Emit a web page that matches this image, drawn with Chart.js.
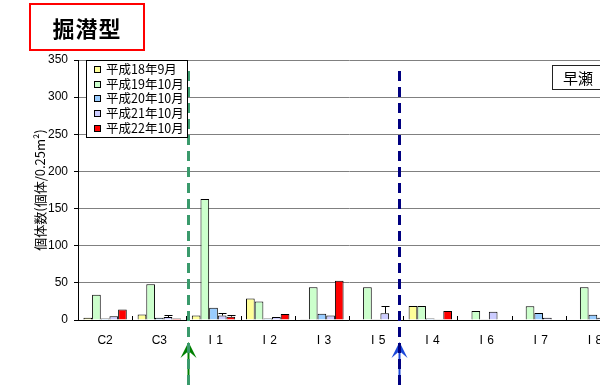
<!DOCTYPE html>
<html lang="ja">
<head>
<meta charset="utf-8">
<title>掘潜型</title>
<script src="https://cdn.jsdelivr.net/npm/chart.js@4/dist/chart.umd.min.js"></script>
<style>
  html, body { margin: 0; padding: 0; background: #fff; overflow: hidden; width: 600px; height: 386px; }
  #wrap { position: absolute; left: 0; top: 0; width: 640px; height: 386px; }
  #title {
    position: absolute; left: 29px; top: 3px; width: 112px; height: 44px;
    border: 2px solid #ff0000; box-sizing: content-box;
    font-family: "Noto Sans CJK JP", sans-serif; font-weight: bold; font-size: 22px;
    line-height: 44px; text-align: center; color: #000; letter-spacing: 1px;
  }
  #legend {
    position: absolute; left: 86px; top: 60px; width: 100px; height: 76px;
    border: 1px solid #000; background: #fff; box-sizing: content-box;
    font-family: "Noto Sans CJK JP", sans-serif; font-size: 12.5px; color: #000;
  }
  #legend .row { position: absolute; left: 7px; height: 14px; line-height: 14px; white-space: nowrap; }
  #legend .sw { display: inline-block; width: 5px; height: 5px; border: 1px solid #000; margin-right: 5px; vertical-align: 1px; }
  #site {
    position: absolute; left: 552px; top: 65px; width: 70px; height: 23px;
    border: 1px solid #222; box-sizing: content-box;
    font-family: "Noto Sans CJK JP", sans-serif; font-size: 15px; line-height: 23px;
    padding-left: 10px; color: #000;
  }
</style>
</head>
<body>
<div id="wrap">
  <canvas id="chart" width="640" height="386"></canvas>
  <div id="title">掘潜型</div>
  <div id="legend"></div>
  <div id="site">早瀬</div>
</div>
<script>
// Survey stations along the x axis
const categories = ['C2', 'C3', 'Ⅰ1', 'Ⅰ2', 'Ⅰ3', 'Ⅰ5', 'Ⅰ4', 'Ⅰ6', 'Ⅰ7', 'Ⅰ8'];
// Survey dates (legend labels)
const seriesNames = ['平成18年9月', '平成19年10月', '平成20年10月', '平成21年10月', '平成22年10月'];
// Individuals per 0.25 m², one array per survey
const h18_09 = [3, 7.5, 6, 29, 1, 0, 19, 0, 0, 0];
const h19_10 = [34, 48, 163, 25, 44, 44, 19, 12, 18.5, 44];
const h20_10 = [2, 3, 16.5, 2, 8.5, 1, 2, 1, 9.5, 7];
const h21_10 = [5, 4, 6, 4, 6, 9, 1, 11, 3, 3];
const h22_10 = [14, 2, 4.5, 8, 53, 0, 12, 0, 0, 0];
// Upper error bar lengths
const h21_10_err = [0, 3, 3, 0, 0, 10, 0, 0, 0, 0];
const h22_10_err = [0, 0, 2.5, 0, 0, 0, 0, 0, 0, 12.5];
// Y axis ticks
const yTicks = [0, 50, 100, 150, 200, 250, 300, 350];

const seriesValues = [h18_09, h19_10, h20_10, h21_10, h22_10];
const seriesErrors = [null, null, null, h21_10_err, h22_10_err];
const fillColors = ['#ffff99', '#ccffcc', '#99ccff', '#ccccff', '#ff0000'];

const datasets = seriesNames.map((name, i) => ({
  label: name,
  data: seriesValues[i],
  errors: seriesErrors[i],
  backgroundColor: fillColors[i],
  borderColor: '#000',
  borderWidth: 1,
  borderSkipped: 'bottom',
  categoryPercentage: 0.8,
  barPercentage: 1.0
}));

// HTML legend built from the datasets
const legendEl = document.getElementById('legend');
datasets.forEach((ds, i) => {
  const row = document.createElement('div');
  row.className = 'row';
  row.style.top = (1 + i * 14.7) + 'px';
  const sw = document.createElement('span');
  sw.className = 'sw';
  sw.style.background = ds.backgroundColor;
  row.appendChild(sw);
  row.appendChild(document.createTextNode(ds.label));
  legendEl.appendChild(row);
});

// Upward error bars with a small cap
const errorBars = {
  id: 'errorBars',
  afterDatasetsDraw(chart) {
    const ctx = chart.ctx;
    const y = chart.scales.y;
    ctx.save();
    ctx.strokeStyle = '#000';
    ctx.lineWidth = 1;
    chart.data.datasets.forEach((ds, di) => {
      if (!ds.errors) return;
      const meta = chart.getDatasetMeta(di);
      ds.errors.forEach((e, j) => {
        if (!e) return;
        const bar = meta.data[j];
        const x = Math.round(bar.x) + 0.5;
        const yTop = Math.round(y.getPixelForValue(ds.data[j] + e)) + 0.5;
        const yBar = y.getPixelForValue(ds.data[j]);
        ctx.beginPath();
        ctx.moveTo(x, yBar);
        ctx.lineTo(x, yTop);
        ctx.moveTo(x - 4, yTop);
        ctx.lineTo(x + 4, yTop);
        ctx.stroke();
      });
    });
    ctx.restore();
  }
};

// Small inward tick marks between stations on the x axis
const boundaryTicks = {
  id: 'boundaryTicks',
  afterDraw(chart) {
    const ctx = chart.ctx;
    const x = chart.scales.x;
    const bottom = chart.chartArea.bottom;
    ctx.save();
    ctx.strokeStyle = '#000';
    ctx.lineWidth = 1;
    for (let i = 1; i < categories.length; i++) {
      const px = Math.round(x.getPixelForValue(i - 0.5)) + 0.5;
      ctx.beginPath();
      ctx.moveTo(px, bottom);
      ctx.lineTo(px, bottom - 4);
      ctx.stroke();
    }
    ctx.restore();
  }
};

// Dashed section dividers with arrows below the axis
const dividers = {
  id: 'dividers',
  afterDraw(chart) {
    const ctx = chart.ctx;
    const x = chart.scales.x;
    const items = [
      { at: categories.indexOf('C3') + 0.53, line: '#3a9a6c', arrow: '#008000', w: 3 },
      { at: categories.indexOf('Ⅰ5') + 0.43, line: '#000080', arrow: '#1a47d8', w: 3 }
    ];
    ctx.save();
    items.forEach(it => {
      const px = Math.round(x.getPixelForValue(it.at)) + 0.5;
      // arrow
      ctx.strokeStyle = it.arrow;
      ctx.fillStyle = it.arrow;
      ctx.lineWidth = 2;
      ctx.setLineDash([]);
      ctx.beginPath();
      ctx.moveTo(px, 384);
      ctx.lineTo(px, 348);
      ctx.stroke();
      ctx.beginPath();
      ctx.moveTo(px, 342);
      ctx.lineTo(px - 8, 358);
      ctx.lineTo(px, 351);
      ctx.lineTo(px + 8, 358);
      ctx.closePath();
      ctx.fill();
      // dashed line
      ctx.strokeStyle = it.line;
      ctx.lineWidth = it.w;
      ctx.setLineDash([10, 6]);
      ctx.beginPath();
      ctx.moveTo(px, 71);
      ctx.lineTo(px, 386);
      ctx.stroke();
    });
    ctx.restore();
  }
};

new Chart(document.getElementById('chart'), {
  type: 'bar',
  data: { labels: categories, datasets },
  options: {
    responsive: false,
    animation: false,
    layout: { padding: { top: 60, right: 20, left: 0, bottom: 0 } },
    plugins: { legend: { display: false }, tooltip: { enabled: false } },
    scales: {
      x: {
        grid: { display: false, drawTicks: false },
        border: { display: true, color: '#000', width: 1 },
        ticks: {
          color: '#000', padding: 13, maxRotation: 0, autoSkip: false,
          font: { family: '"Liberation Sans", "Noto Sans CJK JP", sans-serif', size: 12 }
        },
        afterFit(s) { s.height = 66; }
      },
      y: {
        min: 0, max: 350,
        afterBuildTicks(s) { s.ticks = yTicks.map(v => ({ value: v })); },
        grid: { color: '#808080', tickColor: '#000', tickLength: 4, lineWidth: 1 },
        border: { display: true, color: '#000', width: 1 },
        ticks: {
          color: '#000', padding: 6,
          font: { family: '"Liberation Sans", sans-serif', size: 12 }
        },
        title: {
          display: true,
          text: '個体数(個体/0.25m²)',
          color: '#000',
          padding: { top: 32, bottom: 0 },
          font: { family: '"Noto Sans CJK JP", sans-serif', size: 13 }
        },
        afterFit(s) { s.width = 78; }
      }
    }
  },
  plugins: [errorBars, boundaryTicks, dividers]
});
</script>
</body>
</html>
